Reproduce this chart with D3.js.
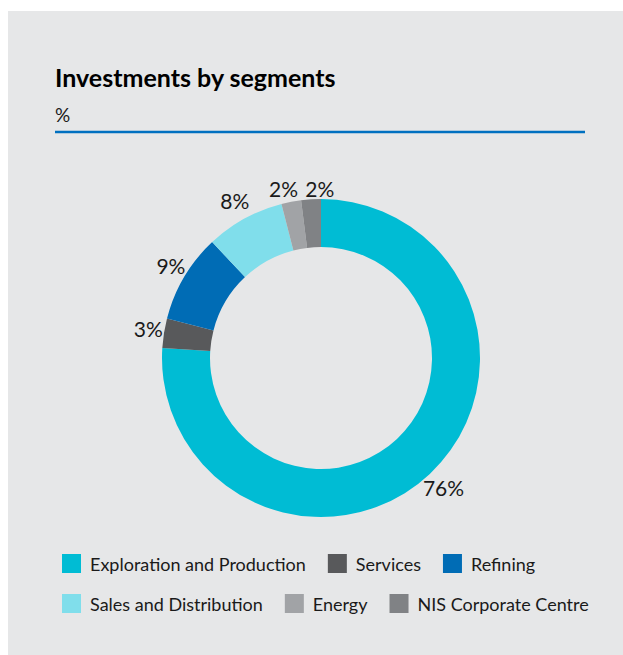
<!DOCTYPE html>
<html>
<head>
<meta charset="utf-8">
<script src="https://cdn.jsdelivr.net/npm/d3@7"></script>
<style>
  body { margin: 0; background: #fff; }
  text { font-family: Lato, "Open Sans", sans-serif; fill: #1a1a1a; }
</style>
</head>
<body>
<div id="chart"></div>
<script>
// data
var segments = ["Exploration and Production", "Services", "Refining",
                "Sales and Distribution", "Energy", "NIS Corporate Centre"];
var shares = [76, 3, 9, 8, 2, 2];
var colors = ["#00bcd4", "#58595b", "#006cb5", "#80deeb", "#a1a3a6", "#808285"];
var legendRows = [[0, 1, 2], [3, 4, 5]];

var W = 623, H = 655;
var cx = 321, cy = 358;
var rOuter = 159, rInner = 111, rLabel = 179;

var svg = d3.select("#chart").append("svg")
    .attr("width", W)
    .attr("height", H);

// panel
svg.append("rect")
   .attr("x", 8).attr("y", 11)
   .attr("width", W - 8).attr("height", H - 11)
   .attr("fill", "#e6e7e8");

svg.append("text")
   .attr("x", 55).attr("y", 87)
   .style("font-size", "25px")
   .style("font-weight", "bold")
   .style("fill", "#000")
   .text("Investments by segments");

svg.append("text")
   .attr("x", 55).attr("y", 122)
   .style("font-size", "19px")
   .text("%");

svg.append("line")
   .attr("x1", 55).attr("x2", 585)
   .attr("y1", 132).attr("y2", 132)
   .attr("stroke", "#0070c0")
   .attr("stroke-width", 2.5);

// donut
var pie = d3.pie().sort(null).value(function(d){ return d; });
var arc = d3.arc().innerRadius(rInner).outerRadius(rOuter);
var arcs = pie(shares);

var g = svg.append("g").attr("transform", "translate(" + cx + "," + cy + ")");

g.selectAll("path.slice")
  .data(arcs)
  .enter().append("path")
    .attr("class", "slice")
    .attr("d", arc)
    .attr("fill", function(d, i){ return colors[i]; });

// small nudges so the two thin slices' labels don't collide
var nudge = [[0, 0], [4, 0], [4, 0], [0, 0], [-4, 7], [10, 10]];

g.selectAll("text.lbl")
  .data(arcs)
  .enter().append("text")
    .attr("class", "lbl")
    .attr("x", function(d, i){
      var a = (d.startAngle + d.endAngle) / 2;
      return rLabel * Math.sin(a) + nudge[i][0];
    })
    .attr("y", function(d, i){
      var a = (d.startAngle + d.endAngle) / 2;
      return -rLabel * Math.cos(a) + nudge[i][1];
    })
    .attr("dy", "0.35em")
    .style("text-anchor", "middle")
    .style("font-size", "21px")
    .text(function(d){ return d.data + "%"; });

// legend
var legend = svg.append("g");
var sq = 19, gapText = 9, gapItem = 22;
legendRows.forEach(function(row, r){
  var xpos = 62;
  var y0 = 554 + r * 40;
  row.forEach(function(idx){
    legend.append("rect")
      .attr("x", xpos).attr("y", y0)
      .attr("width", sq).attr("height", sq)
      .attr("fill", colors[idx]);
    var t = legend.append("text")
      .attr("x", xpos + sq + gapText)
      .attr("y", y0 + 17)
      .style("font-size", "18px")
      .text(segments[idx]);
    xpos += sq + gapText + t.node().getComputedTextLength() + gapItem;
  });
});
</script>
</body>
</html>
